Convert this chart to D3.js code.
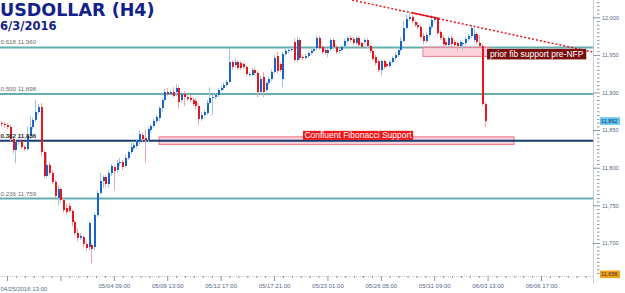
<!DOCTYPE html>
<html><head><meta charset="utf-8">
<script src="https://cdn.jsdelivr.net/npm/d3@7"></script>
<style>html,body{margin:0;padding:0;background:#fff;overflow:hidden}svg{display:block}</style>
</head><body><svg id="c" width="625" height="293"></svg>
<script>
// ---- DATA (USDOLLAR H4) ----
const openP = [
11859,11858,11857,11854,11838,11823,11834,11837,11827,11825,
11842,11854,11863,11874,11881,11821,11789,11803,11793,11781,
11760,11772,11757,11746,11749,11742,11728,11713,11706,11708,
11698,11694,11697,11694,11737,11766,11782,11788,11778,11793,
11801,11797,11806,11807,11802,11813,11821,11826,11829,11834,
11843,11839,11837,11850,11855,11862,11866,11879,11890,11901,
11898,11901,11901,11906,11890,11898,11894,11893,11890,11889,
11882,11865,11870,11873,11886,11893,11894,11897,11903,11906,
11910,11914,11940,11936,11940,11939,11938,11934,11923,11923,
11930,11926,11901,11921,11903,11913,11918,11927,11948,11938,
11918,11951,11955,11956,11967,11943,11970,11947,11946,11948,
11952,11955,11959,11972,11960,11956,11952,11958,11970,11960,
11955,11956,11962,11968,11972,11971,11966,11972,11966,11967,
11970,11962,11955,11947,11942,11930,11942,11938,11935,11940,
11946,11950,11956,11968,11986,11998,12000,11994,11990,11987,
11975,11968,11976,11987,11996,11998,11980,11972,11967,11963,
11972,11967,11966,11962,11964,11966,11971,11975,11970,11978,
11966,11962,11885];
const closeP = [
11858,11857,11854,11838,11823,11834,11837,11827,11825,11842,
11854,11863,11874,11881,11821,11789,11803,11793,11781,11762,
11772,11757,11744,11741,11742,11728,11713,11706,11709,11698,
11693,11726,11692,11737,11766,11782,11788,11778,11793,11802,
11796,11806,11807,11801,11813,11821,11827,11830,11835,11845,
11838,11837,11851,11855,11862,11867,11879,11890,11901,11898,
11901,11895,11906,11887,11898,11894,11891,11890,11885,11882,
11865,11870,11874,11886,11893,11894,11897,11903,11906,11910,
11914,11940,11934,11940,11933,11933,11934,11925,11925,11930,
11926,11901,11918,11901,11913,11918,11927,11946,11929,11930,
11951,11955,11956,11958,11943,11970,11946,11946,11948,11952,
11955,11958,11972,11959,11954,11952,11956,11970,11960,11954,
11956,11960,11968,11972,11970,11966,11972,11963,11960,11970,
11962,11955,11944,11939,11930,11942,11934,11935,11940,11946,
11950,11956,11968,11986,11998,12000,11995,11990,11987,11974,
11968,11976,11987,11996,11999,11979,11972,11964,11963,11972,
11964,11963,11962,11967,11966,11971,11975,11986,11978,11967,
11962,11885,11862];
const highP = [
11862,11861,11859,11857,11841,11837,11841,11839,11830,11855,
11869,11867,11890,11885,11886,11823,11821,11807,11797,11784,
11777,11774,11761,11752,11753,11745,11730,11720,11713,11710,
11702,11729,11700,11740,11770,11793,11790,11790,11797,11805,
11803,11810,11813,11810,11817,11823,11833,11835,11838,11850,
11847,11851,11854,11858,11865,11870,11882,11893,11905,11906,
11903,11907,11911,11909,11901,11902,11898,11897,11894,11893,
11886,11874,11877,11890,11907,11897,11899,11906,11909,11913,
11917,11959,11943,11946,11943,11942,11940,11936,11927,11933,
11933,11929,11922,11927,11915,11921,11931,11950,11954,11940,
11954,11958,11959,11962,11972,11974,11972,11950,11951,11955,
11958,11960,11976,11975,11963,11959,11959,11972,11972,11963,
11959,11963,11972,11975,11976,11974,11975,11975,11968,11972,
11972,11964,11958,11950,11944,11944,11944,11940,11943,11948,
11954,11960,11974,11995,12004,12006,12003,11996,11994,11990,
11979,11980,11990,12003,12002,12000,11983,11976,11971,11975,
11976,11970,11968,11970,11968,11974,11978,11990,11986,11980,
11976,11964,11887];
const lowP = [
11854,11853,11851,11835,11819,11806,11830,11825,11822,11823,
11837,11851,11861,11871,11815,11786,11786,11790,11778,11760,
11750,11754,11740,11738,11740,11722,11710,11702,11704,11694,
11689,11690,11673,11690,11734,11764,11773,11774,11773,11789,
11770,11793,11802,11797,11800,11810,11818,11823,11826,11831,
11835,11807,11834,11847,11853,11859,11862,11874,11889,11895,
11897,11893,11895,11879,11886,11882,11889,11887,11882,11877,
11857,11862,11867,11870,11885,11870,11891,11894,11901,11903,
11907,11913,11930,11933,11930,11930,11931,11922,11921,11922,
11923,11894,11898,11894,11901,11910,11915,11925,11925,11927,
11907,11948,11952,11954,11940,11940,11943,11943,11944,11946,
11950,11954,11956,11956,11951,11950,11947,11955,11958,11951,
11952,11955,11960,11966,11967,11963,11963,11960,11958,11964,
11959,11952,11942,11936,11927,11923,11931,11933,11933,11939,
11943,11947,11954,11967,11983,11995,11992,11987,11984,11971,
11964,11966,11974,11984,11994,11976,11970,11960,11959,11960,
11962,11960,11956,11960,11956,11963,11968,11972,11967,11964,
11960,11882,11854];

const majorTickIdx = [2, 21, 40, 59, 78, 97, 116, 135, 154, 173, 192];
const labelIdx = [40, 59, 78, 97, 116, 135, 154, 173, 192];
const tickLabels = ["05/04 09:00","05/09 13:00","05/12 17:00","05/17 21:00","05/23 01:00","05/26 05:00","05/31 09:00","06/03 13:00","06/06 17:00"];
const startLabel = "04/25/2016 13:00";
const priceTicks = [11700, 11750, 11800, 11850, 11900, 11950, 12000];
const fibRatios = ["0.618", "0.500", "0.382", "0.236"];
const fibValues = [11960, 11898, 11836, 11759];
const lastPrice = 11862;
const lowPrice = 11656;
// annotations in (bar index, price)
const trendLine = [[124.8, 12023], [210.2, 11954]];
const trendSolid = [[146.1, 12006], [156.1, 11998]];
const zonePrior = {i0: 150, i1: 173.9, p0: 11960, p1: 11948};
const zoneConfluent = {i0: 56.1, i1: 182.4, p0: 11841, p1: 11831};
const labelPrior = {i0: 172.8, i1: 208.1, p0: 11958, p1: 11944, text: "prior fib support pre-NFP"};
const labelConfluent = {i0: 107.3, i1: 146.5, p0: 11849, p1: 11837, text: "Confluent Fibonacci Support"};

// ---- CHART ----
const svg = d3.select("#c");
const plotR = 593, plotB = 276;
const x = d3.scaleLinear().domain([-0.5, 210.5]).range([0, plotR]);
const y = d3.scaleLinear().domain([lowPrice, 12000]).range([plotB, 17.3]);
const font = "'Liberation Sans', Arial, sans-serif";

svg.append("defs").append("clipPath").attr("id","clip")
  .append("rect").attr("x",0).attr("y",0).attr("width",plotR).attr("height",plotB);
const g = svg.append("g").attr("clip-path","url(#clip)");

// confluent pink zone
g.append("rect")
  .attr("x", x(zoneConfluent.i0)).attr("width", x(zoneConfluent.i1) - x(zoneConfluent.i0))
  .attr("y", y(zoneConfluent.p0)).attr("height", y(zoneConfluent.p1) - y(zoneConfluent.p0))
  .attr("fill", "#fbd3dc").attr("stroke", "#ef6f82").attr("stroke-width", 1);

// fib lines
fibValues.forEach((v, k) => {
  const isKey = fibRatios[k] === "0.382";
  g.append("line").attr("x1", 0).attr("x2", plotR)
    .attr("y1", y(v)).attr("y2", y(v))
    .attr("stroke", isKey ? "#163b6c" : "#64aeb0")
    .attr("stroke-width", 2);
  svg.append("text").attr("x", 0.5).attr("y", y(v) - 3)
    .attr("font-family", font).attr("font-size", 6.2)
    .attr("fill", isKey ? "#2a2a2a" : "#6d6d6d")
    .attr("font-weight", isKey ? "bold" : "normal")
    .text(fibRatios[k] + " " + d3.format(",")(v));
});

// prior fib support zone
g.append("rect")
  .attr("x", x(zonePrior.i0)).attr("width", x(zonePrior.i1) - x(zonePrior.i0))
  .attr("y", y(zonePrior.p0)).attr("height", y(zonePrior.p1) - y(zonePrior.p0))
  .attr("fill", "#fbc9d6").attr("fill-opacity", 0.85).attr("stroke", "#ef7d90").attr("stroke-width", 1);

// candles
const idx = d3.range(closeP.length);
const bw = 2;
const cg = g.append("g");
idx.forEach(i => {
  const up = closeP[i] >= openP[i];
  const xc = Math.round(x(i));
  cg.append("line")
    .attr("x1", xc + 0.5).attr("x2", xc + 0.5)
    .attr("y1", y(highP[i])).attr("y2", y(lowP[i]))
    .attr("stroke", up ? "#9dc2ee" : "#f3a2a6").attr("stroke-width", 1);
  const top = y(Math.max(openP[i], closeP[i]));
  const bot = y(Math.min(openP[i], closeP[i]));
  cg.append("rect")
    .attr("x", xc - 0.5).attr("width", bw)
    .attr("y", top).attr("height", Math.max(1, bot - top))
    .attr("fill", up ? "#1862c8" : "#e5161d")
    .attr("shape-rendering", "crispEdges");
});

// trend lines
const line = d3.line().x(d => x(d[0])).y(d => y(d[1]));
g.append("path").datum(trendLine).attr("d", line)
  .attr("fill","none").attr("stroke","#e8161c").attr("stroke-width",1.5).attr("stroke-dasharray","2,2");
g.append("path").datum(trendSolid).attr("d", line)
  .attr("fill","none").attr("stroke","#e8161c").attr("stroke-width",1.6);

// label boxes
g.append("rect").attr("x", x(labelConfluent.i0)).attr("width", x(labelConfluent.i1) - x(labelConfluent.i0))
  .attr("y", y(labelConfluent.p0)).attr("height", y(labelConfluent.p1) - y(labelConfluent.p0)).attr("fill", "#f2161b");
g.append("text").attr("x", (x(labelConfluent.i0) + x(labelConfluent.i1)) / 2).attr("y", (y(labelConfluent.p0) + y(labelConfluent.p1)) / 2 + 3)
  .attr("text-anchor","middle").attr("font-family", font).attr("font-size", 8.5)
  .attr("fill", "#fff").text(labelConfluent.text);
svg.append("rect").attr("x", x(labelPrior.i0)).attr("width", x(labelPrior.i1) - x(labelPrior.i0))
  .attr("y", y(labelPrior.p0)).attr("height", y(labelPrior.p1) - y(labelPrior.p0)).attr("fill", "#7a0f10");
svg.append("text").attr("x", (x(labelPrior.i0) + x(labelPrior.i1)) / 2).attr("y", (y(labelPrior.p0) + y(labelPrior.p1)) / 2 + 3)
  .attr("text-anchor","middle").attr("font-family", font).attr("font-size", 8.5)
  .attr("fill", "#fff").text(labelPrior.text);

// title
svg.append("text").attr("x", 0).attr("y", 15.5).attr("font-family", "'DejaVu Sans', Verdana, sans-serif")
  .attr("font-weight", "bold").attr("font-size", 17.5).attr("fill", "#13218a").text("USDOLLAR (H4)");
svg.append("text").attr("x", 0).attr("y", 29.5).attr("font-family", "'DejaVu Sans', Verdana, sans-serif")
  .attr("font-weight", "bold").attr("font-size", 11.5).attr("fill", "#13218a").text("6/3/2016");

// axes frame
svg.append("line").attr("x1", 0).attr("x2", plotR).attr("y1", plotB + 0.5).attr("y2", plotB + 0.5)
  .attr("stroke", "#c9ced8").attr("stroke-dasharray", "1,1");
svg.append("line").attr("x1", plotR + 0.5).attr("x2", plotR + 0.5).attr("y1", 0).attr("y2", plotB + 8)
  .attr("stroke", "#c9ced8");

// x axis major
const xAxis = d3.axisBottom(x).tickValues(labelIdx).tickFormat((d, k) => tickLabels[k]).tickSize(5).tickPadding(3);
const xa = svg.append("g").attr("transform", `translate(0,${plotB})`).call(xAxis);
xa.select(".domain").remove();
xa.selectAll("line").attr("stroke", "#8a93a6");
xa.selectAll("text").attr("font-family", font).attr("font-size", 6).attr("fill", "#56668a");
const xAxis0 = d3.axisBottom(x).tickValues(majorTickIdx.filter(d => labelIdx.indexOf(d) < 0)).tickFormat("").tickSize(5);
const xa0 = svg.append("g").attr("transform", `translate(0,${plotB})`).call(xAxis0);
xa0.select(".domain").remove(); xa0.selectAll("line").attr("stroke", "#8a93a6");
// minor ticks
const minorIdx = [];
majorTickIdx.forEach(m => { for (let k = 1; k < 6; k++) minorIdx.push(m + k * 19 / 6); });
const xm = svg.append("g").attr("transform", `translate(0,${plotB})`)
  .call(d3.axisBottom(x).tickValues(minorIdx.filter(v => x(v) < plotR)).tickFormat("").tickSize(2));
xm.select(".domain").remove(); xm.selectAll("line").attr("stroke", "#8a93a6");
svg.append("text").attr("x", 0.5).attr("y", 290.5).attr("font-family", font).attr("font-size", 6)
  .attr("fill", "#56668a").text(startLabel);

// y axis
const ya = svg.append("g").attr("transform", `translate(${plotR},0)`)
  .call(d3.axisRight(y).tickValues(priceTicks).tickFormat(d3.format(",")).tickSize(7).tickPadding(2));
ya.select(".domain").remove();
ya.selectAll("line").attr("stroke", "#8a93a6");
ya.selectAll("text").attr("font-family", font).attr("font-size", 5.6).attr("fill", "#56668a");
const minorP = d3.range(11660, 12021, 5).filter(v => priceTicks.indexOf(v) < 0);
const ym = svg.append("g").attr("transform", `translate(${plotR + 4},0)`)
  .call(d3.axisRight(y).tickValues(minorP).tickFormat("").tickSize(2.5));
ym.select(".domain").remove(); ym.selectAll("line").attr("stroke", "#8a93a6");

// price tags
svg.append("rect").attr("x", 600).attr("y", y(lastPrice) - 3.8).attr("width", 20).attr("height", 7.6).attr("fill", "#62c6f5");
svg.append("text").attr("x", 601).attr("y", y(lastPrice) + 2).attr("font-family", font).attr("font-size", 5.6)
  .attr("fill", "#1d2b4f").text(d3.format(",")(lastPrice));
svg.append("rect").attr("x", 600).attr("y", plotB - 5.5).attr("width", 20).attr("height", 7.6).attr("fill", "#f4a21e");
svg.append("text").attr("x", 601).attr("y", plotB).attr("font-family", font).attr("font-size", 5.6)
  .attr("fill", "#3a2a10").text(d3.format(",")(lowPrice));
</script></body></html>
